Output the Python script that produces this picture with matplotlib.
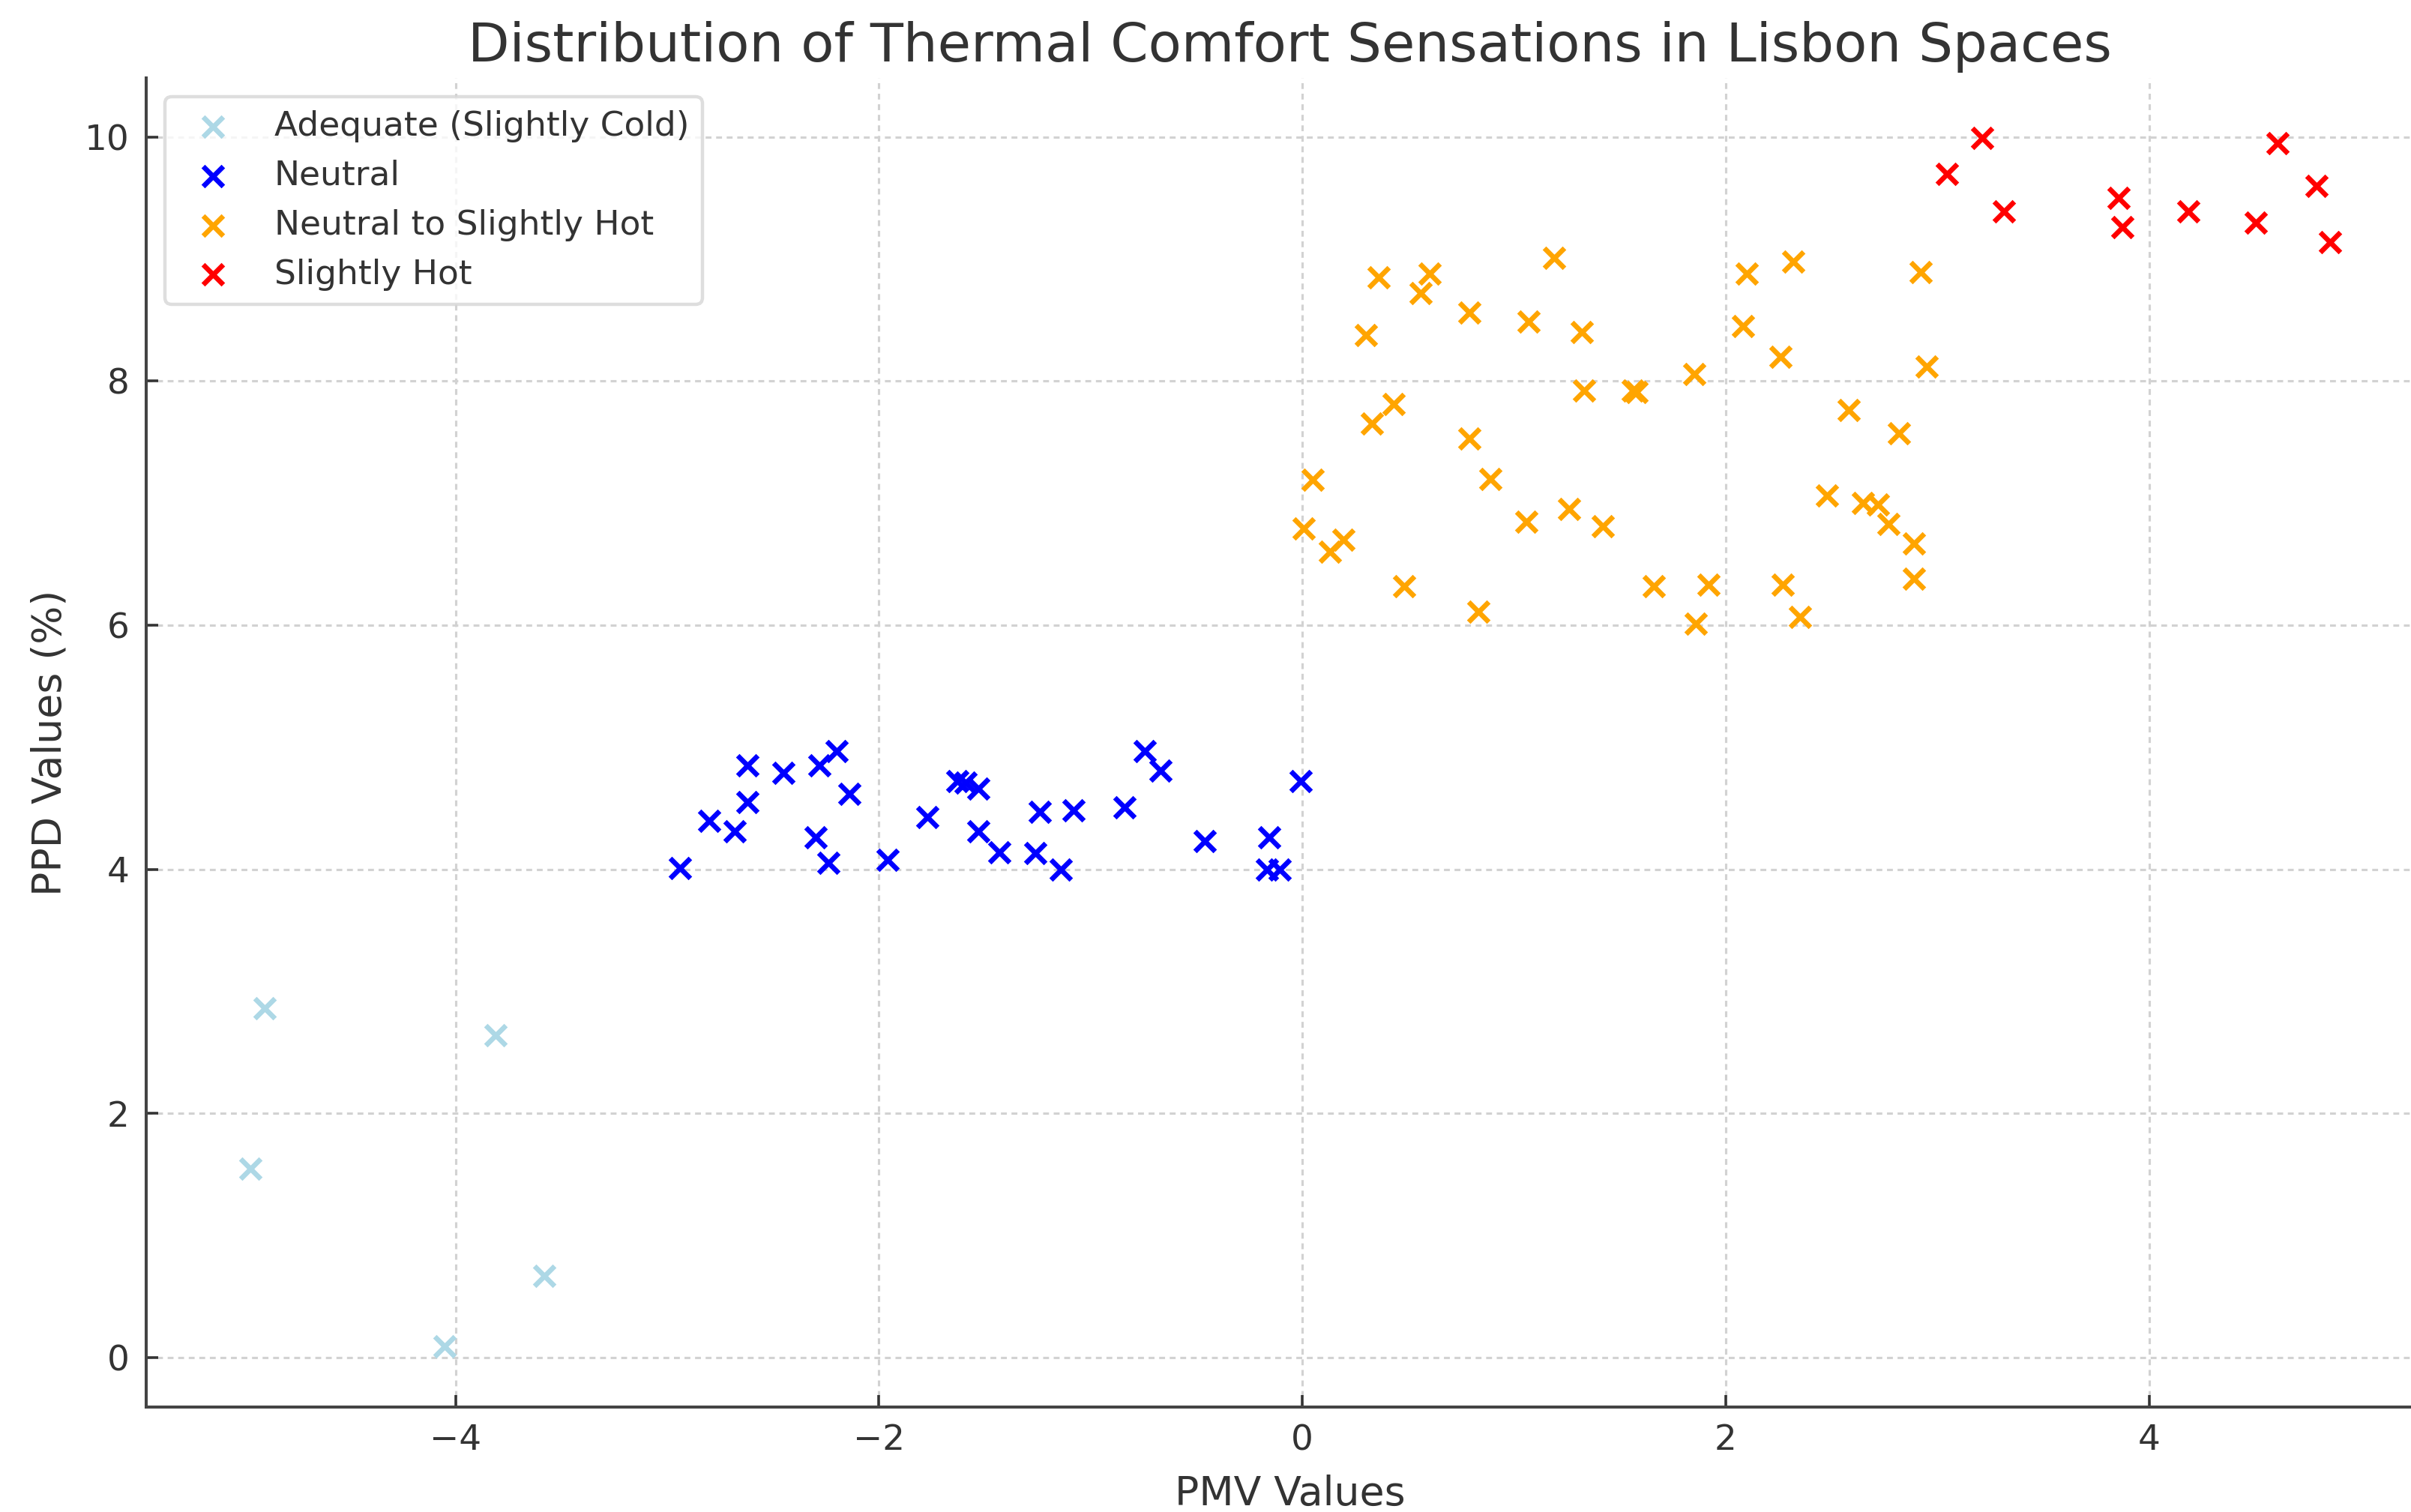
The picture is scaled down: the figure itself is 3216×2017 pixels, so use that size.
import matplotlib
matplotlib.use("Agg")
import matplotlib.pyplot as plt

# Adequate (Slightly Cold)
cold_pmv = [-4.90, -4.97, -3.81, -3.58, -4.05]
cold_ppd = [2.86, 1.55, 2.64, 0.67, 0.09]

# Neutral
neutral_pmv = [-2.94, -2.80, -2.68, -2.62, -2.62, -2.45, -2.28, -2.20, -2.30, -2.24,
               -2.14, -1.96, -1.77, -1.63, -1.59, -1.53, -1.53, -1.43, -1.26, -1.24,
               -1.14, -1.08, -0.84, -0.745, -0.67, -0.46, -0.156, -0.166, -0.105, -0.007]
neutral_ppd = [4.01, 4.40, 4.31, 4.85, 4.55, 4.79, 4.85, 4.97, 4.26, 4.05,
               4.62, 4.08, 4.43, 4.72, 4.71, 4.66, 4.31, 4.14, 4.13, 4.47,
               4.00, 4.48, 4.51, 4.97, 4.81, 4.23, 4.26, 4.00, 4.00, 4.72]

# Neutral to Slightly Hot
warm_pmv = [0.36, 0.60, 0.56, 0.79, 1.19, 0.30, 1.07, 1.32, 2.10, 2.32,
            2.92, 2.08, 2.26, 2.95, 1.85, 1.33, 1.56, 1.58, 0.43, 0.33,
            0.79, 2.58, 2.82, 0.05, 0.89, 0.005, 0.13, 0.196, 1.06, 1.26,
            1.42, 2.48, 2.65, 2.72, 2.77, 2.89, 2.89, 0.48, 0.83, 1.66,
            1.92, 1.86, 2.27, 2.35]
warm_ppd = [8.85, 8.88, 8.72, 8.56, 9.01, 8.38, 8.49, 8.40, 8.88, 8.98,
            8.89, 8.45, 8.20, 8.12, 8.06, 7.92, 7.92, 7.91, 7.81, 7.65,
            7.53, 7.76, 7.57, 7.19, 7.20, 6.79, 6.60, 6.70, 6.85, 6.95,
            6.81, 7.06, 7.00, 6.99, 6.83, 6.67, 6.38, 6.32, 6.11, 6.32,
            6.33, 6.01, 6.33, 6.07]

# Slightly Hot
hot_pmv = [3.21, 3.045, 3.315, 3.855, 3.875, 4.185, 4.505, 4.605, 4.79, 4.855]
hot_ppd = [9.99, 9.70, 9.39, 9.50, 9.26, 9.39, 9.30, 9.95, 9.60, 9.14]

groups = [
    ("Adequate (Slightly Cold)", cold_pmv, cold_ppd, "lightblue"),
    ("Neutral", neutral_pmv, neutral_ppd, "blue"),
    ("Neutral to Slightly Hot", warm_pmv, warm_ppd, "orange"),
    ("Slightly Hot", hot_pmv, hot_ppd, "red"),
]

text_color = "#333333"
plt.rcParams.update({
    "font.family": ["DejaVu Sans"],
    "text.color": text_color,
    "axes.labelcolor": text_color,
    "xtick.color": text_color,
    "ytick.color": text_color,
    "xtick.direction": "in",
    "ytick.direction": "in",
})

fig = plt.figure(figsize=(10, 6.272), dpi=321.6)
ax = fig.add_axes([0.0606, 0.0695, 0.949, 0.879])

for label, xs, ys, color in groups:
    ax.scatter(xs, ys, marker="x", color=color, s=36, linewidths=1.5, label=label, zorder=3)

ax.set_title("Distribution of Thermal Comfort Sensations in Lisbon Spaces",
             fontsize=16.2, color=text_color, pad=5)
ax.set_xlabel("PMV Values", fontsize=12, labelpad=5)
ax.set_ylabel("PPD Values (%)", fontsize=12, labelpad=4.5)
ax.tick_params(labelsize=10.5, length=3.5, width=0.8, pad=5)

ax.set_xticks([-4, -2, 0, 2, 4])
ax.set_yticks([0, 2, 4, 6, 8, 10])

ax.grid(True, color="#d2d2d2", linestyle=(0, (2.5, 2)), linewidth=0.7, zorder=0)
ax.set_axisbelow(True)

for side in ("top", "right"):
    ax.spines[side].set_visible(False)
for side in ("left", "bottom"):
    ax.spines[side].set_color("#444444")
    ax.spines[side].set_linewidth(0.9)

leg = ax.legend(loc="upper left", fontsize=10.2, frameon=True, fancybox=True,
                borderaxespad=0.55)
leg.get_frame().set_edgecolor("#d6d6d6")
for t in leg.get_texts():
    t.set_color(text_color)

fig.savefig("out.png", dpi=321.6)
